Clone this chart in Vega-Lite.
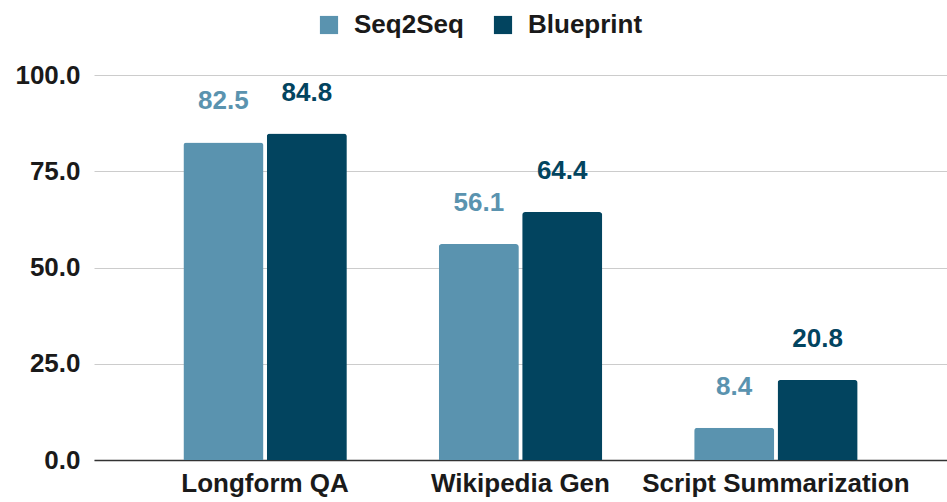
{
  "$schema": "https://vega.github.io/schema/vega-lite/v6.json",
  "width": 853,
  "height": 385,
  "autosize": {"type": "none"},
  "padding": {"left": 94, "top": 75, "right": 0, "bottom": 42},
  "background": "white",
  "config": {
    "font": "Liberation Sans",
    "view": {"stroke": null}
  },
  "data": {
    "values": [
      {"task": "Longform QA", "model": "Seq2Seq", "score": 82.5},
      {"task": "Longform QA", "model": "Blueprint", "score": 84.8},
      {"task": "Wikipedia Gen", "model": "Seq2Seq", "score": 56.1},
      {"task": "Wikipedia Gen", "model": "Blueprint", "score": 64.4},
      {"task": "Script Summarization", "model": "Seq2Seq", "score": 8.4},
      {"task": "Script Summarization", "model": "Blueprint", "score": 20.8}
    ]
  },
  "encoding": {
    "x": {
      "field": "task", "type": "nominal", "sort": null,
      "scale": {"paddingInner": 0.36, "paddingOuter": 0.35},
      "axis": {
        "title": null, "labelAngle": 0, "ticks": false,
        "labelFontSize": 26, "labelFontWeight": "bold", "labelColor": "#1a1a1a",
        "labelPadding": 10, "labelLimit": 400, "labelOverlap": false,
        "domainColor": "#333333", "domainWidth": 1.5
      }
    },
    "xOffset": {
      "field": "model", "type": "nominal", "sort": ["Seq2Seq", "Blueprint"],
      "scale": {"paddingInner": 0.04}
    },
    "y": {
      "field": "score", "type": "quantitative",
      "scale": {"domain": [0, 100]},
      "axis": {
        "title": null, "values": [0, 25, 50, 75, 100], "format": ".1f",
        "ticks": false, "domain": false,
        "labelFontSize": 26, "labelFontWeight": "bold", "labelColor": "#1a1a1a",
        "labelPadding": 14, "gridColor": "#cccccc", "gridWidth": 1
      }
    },
    "color": {
      "field": "model", "type": "nominal", "sort": ["Seq2Seq", "Blueprint"],
      "scale": {"domain": ["Seq2Seq", "Blueprint"], "range": ["#5a93af", "#02445f"]},
      "legend": {
        "title": null, "orient": "none", "direction": "horizontal",
        "legendX": 222, "legendY": -63,
        "symbolType": "square", "symbolSize": 330, "symbolStrokeWidth": 0,
        "labelFontSize": 26, "labelFontWeight": "bold", "labelColor": "#1a1a1a",
        "labelOffset": 12, "columnPadding": 26, "labelLimit": 300
      }
    }
  },
  "layer": [
    {
      "mark": {"type": "bar", "cornerRadiusEnd": 3}
    },
    {
      "mark": {"type": "text", "dy": -28, "fontSize": 26, "fontWeight": "bold", "baseline": "bottom"},
      "encoding": {
        "text": {"field": "score", "type": "quantitative", "format": ".1f"}
      }
    }
  ]
}
